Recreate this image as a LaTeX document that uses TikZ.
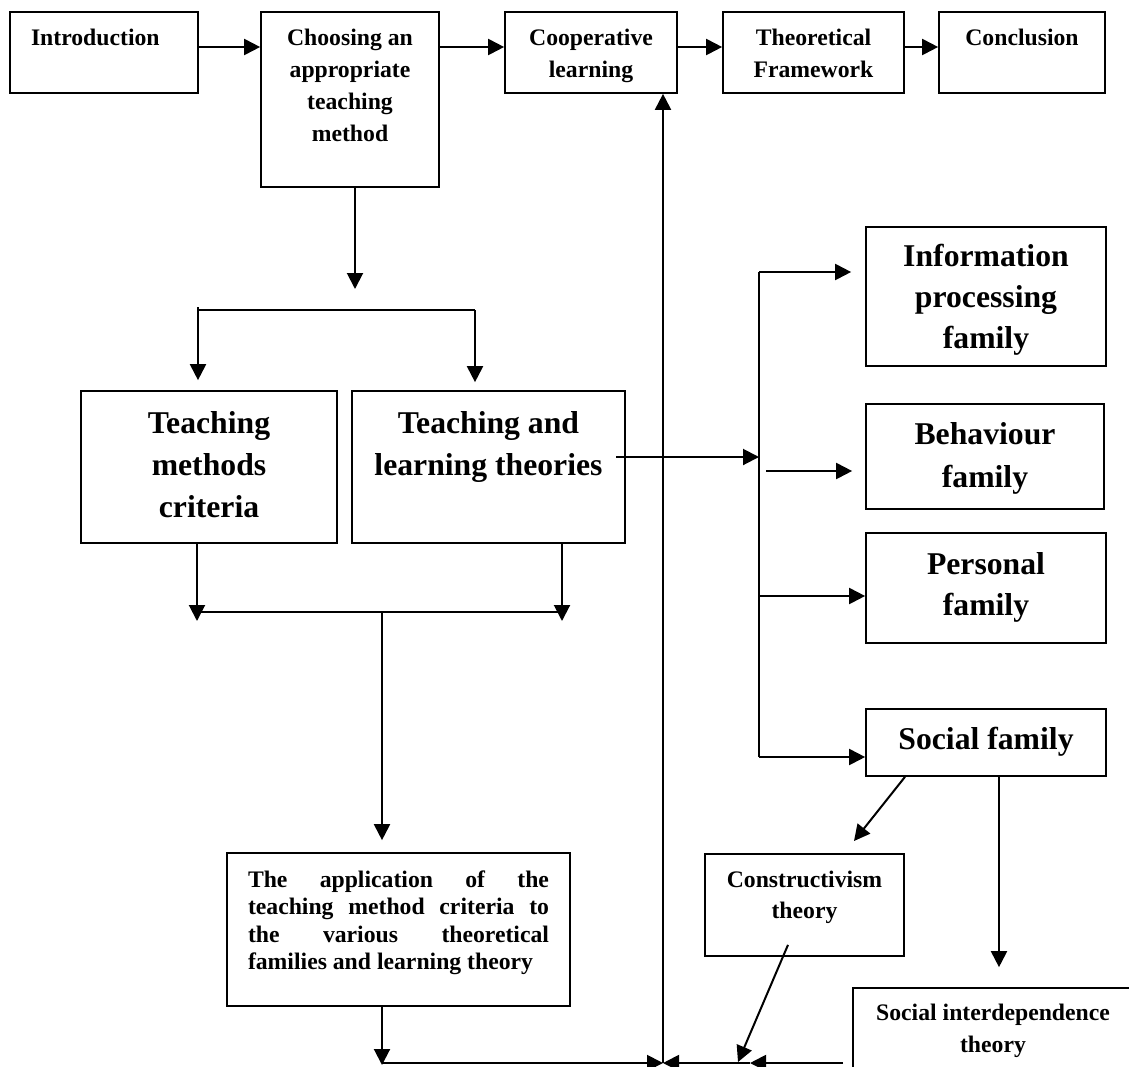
\documentclass[tikz,border=0pt]{standalone}
\usepackage{fontspec}
\setmainfont{Liberation Serif}
\usetikzlibrary{arrows.meta,calc}
% #1 width, #2 height, #3 setup, #4 first baseline offset, #5 text
\newcommand\bxt[5]{\parbox[c][#2][t]{#1}{#3\rule{0pt}{#4}#5\par}}
\newcommand\smtxt[1]{\fontsize{23.7}{#1}\selectfont}
\newcommand\lgtxt[1]{\fontsize{31.7}{#1}\selectfont}
\tikzset{
  box/.style={draw, line width=1.7pt, inner sep=0pt, font=\bfseries},
  ln/.style={line width=2pt},
  arr/.style={line width=2pt, -{Triangle[length=16pt,width=16pt]}},
}
\begin{document}
\begin{tikzpicture}[x=1pt, y=-1pt]
\useasboundingbox (0,0) rectangle (1129,1066);
\clip (0,0) rectangle (1129,1066);

% top row
\node[box] (intro) at (104,52.5) {\bxt{188pt}{81pt}{\raggedright\smtxt{32.3pt}\hspace*{21pt}}{33pt}{Introduction}};
\node[box] (choose) at (350,99.5) {\bxt{178pt}{175pt}{\centering\smtxt{32.3pt}}{33pt}{Choosing an\\appropriate\\teaching\\method}};
\node[box] (coop) at (591,52.5) {\bxt{172pt}{81pt}{\centering\smtxt{32.3pt}}{33pt}{Cooperative\\learning}};
\node[box] (theo) at (813.5,52.5) {\bxt{181pt}{81pt}{\centering\smtxt{32.3pt}}{33pt}{Theoretical\\Framework}};
\node[box] (concl) at (1022,52.5) {\bxt{166pt}{81pt}{\centering\smtxt{32.3pt}}{33pt}{Conclusion}};

% middle left
\node[box] (tmc) at (209,467) {\bxt{256pt}{152pt}{\centering\lgtxt{42pt}}{42pt}{Teaching\\methods\\criteria}};
\node[box] (tlt) at (488.5,467) {\bxt{273pt}{152pt}{\centering\lgtxt{42.5pt}}{42pt}{Teaching and\\learning theories}};

% families
\node[box] (info) at (986,296.5) {\bxt{240pt}{139pt}{\centering\lgtxt{41pt}}{39pt}{Information\\processing\\family}};
\node[box] (behav) at (985,456.5) {\bxt{238pt}{105pt}{\centering\lgtxt{43pt}}{40pt}{Behaviour\\family}};
\node[box] (pers) at (986,588) {\bxt{240pt}{110pt}{\centering\lgtxt{41pt}}{41pt}{Personal\\family}};
\node[box] (social) at (986,742.5) {\bxt{240pt}{67pt}{\centering\lgtxt{42pt}}{40pt}{Social family}};

% bottom
\node[box] (constr) at (804.5,905) {\bxt{199pt}{102pt}{\centering\smtxt{31pt}}{33pt}{Constructivism\\theory}};
\node[box] (appl) at (398.5,929.5) {\bxt{343pt}{153pt}{\smtxt{27.5pt}\leftskip=21pt \rightskip=21pt \parfillskip=0pt plus 1fil}{34pt}{The application of the\linebreak teaching method criteria to\linebreak the various theoretical\linebreak families and learning theory}};
\node[box] (socint) at (993,1044) {\bxt{280pt}{112pt}{\centering\smtxt{32pt}}{32pt}{Social interdependence\\theory}};

% helper coordinates
\coordinate (cdown) at (355,289);
\coordinate (brL) at (198,310);
\coordinate (brR) at (475,310);
\coordinate (mL) at (197,612);
\coordinate (mR) at (562,612);
\coordinate (mC) at (382,612);
\coordinate (tlo) at (616,457);
\coordinate (busT) at (759,272);
\coordinate (busB) at (759,757);
\coordinate (bp) at (759,596);
\coordinate (bs) at (766,471);
\coordinate (bot) at (663,1063);
\coordinate (mid) at (750,1063);
\coordinate (sir) at (843,1063);
\coordinate (ct) at (854,841);
\coordinate (ce) at (738,1062);

% top row arrows
\draw[arr] ([yshift=5.5pt]intro.east) -- ([yshift=5.5pt]intro.east -| choose.west);
\draw[arr] ([yshift=5.5pt]coop.west -| choose.east) -- ([yshift=5.5pt]coop.west);
\draw[arr] ([yshift=5.5pt]coop.east) -- ([yshift=5.5pt]theo.west);
\draw[arr] ([yshift=5.5pt]theo.east) -- ([yshift=5.5pt]concl.west);

% choose down and branch
\draw[arr] (cdown |- choose.south) -- (cdown);
\draw[ln] (brL) -- (brR);
\draw[arr, shorten >=10pt] ([yshift=3pt]brL) -- (brL |- tmc.north);
\draw[arr, shorten >=8pt] (brR) -- (brR |- tlt.north);

% merge
\draw[arr] (mL |- tmc.south) -- ([yshift=-9pt]mL);
\draw[arr] (mR |- tlt.south) -- ([yshift=-9pt]mR);
\draw[ln] (mL) -- (mR);
\draw[arr, shorten >=12pt] (mC) -- (mC |- appl.north);

% families bus
\draw[arr] (tlo) -- (tlo -| busT);
\draw[ln] (busT) -- (busB);
\draw[arr, shorten >=14pt] (busT) -- (busT -| info.west);
\draw[arr, shorten >=13pt] (bs) -- (bs -| behav.west);
\draw[arr] (bp) -- (bp -| pers.west);
\draw[arr] (busB) -- (busB -| social.west);

% social branches
\draw[arr] ([xshift=-81pt]social.south) -- (ct);
\draw[arr, shorten >=20pt] ([xshift=13pt]social.south) -- ([xshift=13pt]social.south |- socint.north);
\draw[arr] ([xshift=-16.5pt,yshift=12pt]constr.south) -- (ce);

% bottom collection and main vertical
\draw[arr] (mC |- appl.south) -- ([yshift=-2pt]mC |- bot);
\draw[arr] (mC |- bot) -- (bot);
\draw[arr] (sir) -- (mid);
\draw[arr] (mid) -- (bot);
\draw[arr] (bot) -- (bot |- coop.south);
\end{tikzpicture}
\end{document}
